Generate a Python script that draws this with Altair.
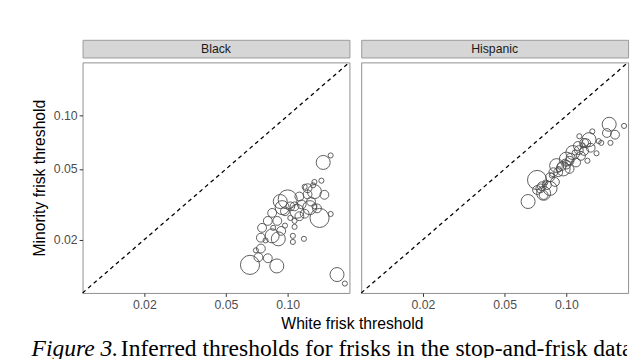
import altair as alt
import pandas as pd

# ---------------- data ----------------
panels = ["Black", "Hispanic"]
tick_values = [0.02, 0.05, 0.10]
diag_values = [0.01, 0.2]

black_white = [0.149, 0.162, 0.135, 0.146, 0.125, 0.135, 0.151, 0.100, 0.094, 0.108,
               0.117, 0.128, 0.139, 0.084, 0.097, 0.103, 0.114, 0.143, 0.162, 0.080,
               0.089, 0.108, 0.075, 0.084, 0.090, 0.074, 0.108, 0.106, 0.120, 0.106,
               0.074, 0.072, 0.080, 0.0655, 0.0885, 0.174, 0.190, 0.092, 0.114, 0.125,
               0.133, 0.121, 0.097, 0.085, 0.078, 0.093, 0.111, 0.103, 0.130, 0.070,
               0.135, 0.121]
black_minority = [0.0545, 0.0597, 0.0423, 0.0430, 0.0390, 0.0373, 0.0358, 0.0337, 0.0303, 0.0308,
                  0.0316, 0.0303, 0.0300, 0.0283, 0.0289, 0.0265, 0.0271, 0.0265, 0.0279, 0.0255,
                  0.0255, 0.0255, 0.0233, 0.0210, 0.0202, 0.0205, 0.0236, 0.0210, 0.0202, 0.0194,
                  0.0178, 0.0159, 0.0157, 0.0144, 0.0142, 0.0127, 0.0113, 0.0328, 0.0350, 0.0360,
                  0.0405, 0.0397, 0.0240, 0.0233, 0.0198, 0.0224, 0.0289, 0.0308, 0.0328, 0.0174,
                  0.0308, 0.0280]
black_stops = [7500, 1000, 1000, 1000, 3000, 7500, 3000, 14000, 7500, 3000,
               3000, 7500, 3000, 3000, 3000, 1000, 3000, 14000, 1000, 3000,
               3000, 1000, 3000, 7500, 7500, 3000, 1000, 1000, 1000, 1000,
               3000, 3000, 3000, 14000, 7500, 7500, 1000, 7500, 3000, 3000,
               1000, 1000, 1000, 1000, 1000, 3000, 7500, 3000, 3000, 1000,
               1000, 3000]

hisp_white = [0.0651, 0.0720, 0.0747, 0.0775, 0.0833, 0.0880, 0.0913, 0.0965, 0.1000, 0.1037,
              0.1076, 0.1137, 0.1157, 0.1221, 0.1290, 0.1339, 0.1439, 0.1480, 0.1403, 0.1267,
              0.1618, 0.1727, 0.1577, 0.1912, 0.1641, 0.1116, 0.1037, 0.0897, 0.0833, 0.0804,
              0.0775, 0.0720, 0.0865, 0.1178, 0.1221, 0.1314, 0.0950, 0.0980, 0.1050, 0.1100,
              0.1150, 0.1200, 0.1250, 0.1000, 0.0920, 0.0850, 0.0790, 0.0760]
hisp_minority = [0.0328, 0.0434, 0.0389, 0.0365, 0.0389, 0.0423, 0.0480, 0.0501, 0.0569, 0.0557,
                 0.0620, 0.0675, 0.0766, 0.0703, 0.0733, 0.0816, 0.0719, 0.0703, 0.0614, 0.0557,
                 0.0895, 0.0782, 0.0799, 0.0876, 0.0703, 0.0545, 0.0501, 0.0523, 0.0450, 0.0406,
                 0.0357, 0.0381, 0.0480, 0.0594, 0.0633, 0.0660, 0.0520, 0.0550, 0.0580, 0.0620,
                 0.0640, 0.0680, 0.0700, 0.0530, 0.0500, 0.0460, 0.0420, 0.0400]
hisp_stops = [7500, 14000, 3000, 7500, 7500, 3000, 3000, 7500, 7500, 3000,
              7500, 3000, 1000, 3000, 7500, 1000, 1000, 1000, 1000, 1000,
              7500, 3000, 3000, 1000, 1000, 3000, 3000, 7500, 3000, 3000,
              3000, 3000, 3000, 3000, 3000, 3000, 3000, 1000, 3000, 1000,
              3000, 1000, 3000, 3000, 1000, 1000, 1000, 3000]

x_title = "White frisk threshold"
y_title = "Minority frisk threshold"
caption_lead = "Figure 3."
caption_rest = "Inferred thresholds for frisks in the stop-and-frisk data"

# ---------------- chart ----------------
W, H, STRIP = 272, 235, 18
FONT = "Liberation Sans"

diag_df = pd.DataFrame({"w": diag_values, "m": diag_values})
size_scale = alt.Scale(domain=[0, 14000], range=[0, 380])


def encodings(show_y):
    sc = alt.Scale(type="log", domain=[0.01, 0.2], nice=False)
    x_enc = alt.X("w:Q", scale=sc, title=None,
                  axis=alt.Axis(values=tick_values, format=".2f"))
    if show_y:
        y_enc = alt.Y("m:Q", scale=sc, title=y_title,
                      axis=alt.Axis(values=tick_values, format=".2f", titlePadding=6))
    else:
        y_enc = alt.Y("m:Q", scale=sc, axis=None)
    return x_enc, y_enc


def panel(label, xs, ys, ss, show_y):
    df = pd.DataFrame({"w": xs, "m": ys, "stops": ss})
    x_enc, y_enc = encodings(show_y)
    pts = alt.Chart(df).mark_point(
        shape="circle", filled=False, stroke="#4d4d4d", strokeWidth=1, opacity=0.9
    ).encode(x=x_enc, y=y_enc,
             size=alt.Size("stops:Q", scale=size_scale, legend=None))
    line = alt.Chart(diag_df).mark_line(
        color="black", strokeDash=[4, 3.5], strokeWidth=1.3
    ).encode(x=x_enc, y=y_enc)
    plot = alt.layer(pts, line).properties(width=W, height=H)
    strip = alt.Chart(pd.DataFrame({"panel": [label]})).mark_text(
        font=FONT, fontSize=12.5, color="#1a1a1a", baseline="middle"
    ).encode(text="panel:N", x=alt.value(W / 2), y=alt.value(STRIP / 2 + 0.5)).properties(
        width=W, height=STRIP, view=alt.ViewBackground(fill="#d6d6d6", stroke="#9a9a9a"))
    return alt.vconcat(strip, plot, spacing=0)


row = alt.hconcat(
    panel(panels[0], black_white, black_minority, black_stops, True),
    panel(panels[1], hisp_white, hisp_minority, hisp_stops, False),
    spacing=4,
)

CAP_W = 2 * W + 4 + 7
t1 = alt.Chart(pd.DataFrame({"t": [x_title]})).mark_text(
    font=FONT, fontSize=16, color="black", align="center", baseline="alphabetic"
).encode(text="t:N", x=alt.value(W + 3), y=alt.value(17))
t2 = alt.Chart(pd.DataFrame({"t": [caption_lead]})).mark_text(
    font="Liberation Serif", fontSize=24, fontStyle="italic", color="black",
    align="left", baseline="alphabetic"
).encode(text="t:N", x=alt.value(-52), y=alt.value(44))
t3 = alt.Chart(pd.DataFrame({"t": [caption_rest]})).mark_text(
    font="Liberation Serif", fontSize=24, color="black",
    align="left", baseline="alphabetic", clip=True
).encode(text="t:N", x=alt.value(39), y=alt.value(44))
caption = alt.layer(t1, t2, t3).properties(
    width=CAP_W, height=46, view=alt.ViewBackground(stroke="transparent"))

chart = alt.vconcat(row, caption, spacing=0).properties(
    padding={"left": 23, "top": 28, "right": 0, "bottom": 0}
).configure_view(
    stroke="#8f8f8f", strokeWidth=1
).configure_axis(
    grid=False, domain=False, tickColor="#333333", tickSize=3.5, labelPadding=2,
    labelFont=FONT, labelFontSize=12.5, labelColor="#4d4d4d",
    titleFont=FONT, titleFontSize=16, titleFontWeight="normal", titleColor="black"
)

chart.save("out.html", embed_options={"renderer": "svg", "actions": False})
